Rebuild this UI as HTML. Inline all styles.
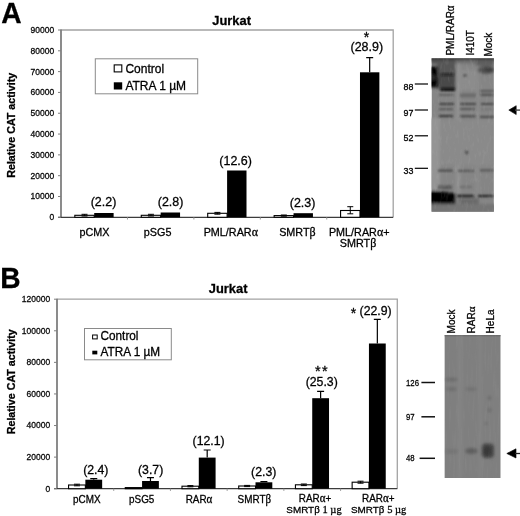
<!DOCTYPE html><html><head><meta charset="utf-8"><style>html,body{margin:0;padding:0;background:#fff;width:520px;height:516px;overflow:hidden}svg{display:block;filter:grayscale(1)}text{font-family:"Liberation Sans",sans-serif;stroke:#000;stroke-width:0.28px}</style></head><body>
<svg width="520" height="516" viewBox="0 0 520 516">
<defs><filter id="bl1" x="-20%" y="-50%" width="140%" height="200%"><feGaussianBlur stdDeviation="0.9"/></filter><filter id="bl2" x="-30%" y="-30%" width="160%" height="160%"><feGaussianBlur stdDeviation="1.5"/></filter><filter id="blA" x="-20%" y="-20%" width="140%" height="140%"><feGaussianBlur stdDeviation="1.4"/></filter><filter id="noise" x="0" y="0" width="100%" height="100%"><feTurbulence type="fractalNoise" baseFrequency="0.35 0.12" numOctaves="2" seed="7"/><feColorMatrix type="matrix" values="0 0 0 0 0.5  0 0 0 0 0.5  0 0 0 0 0.5  1.2 0 0 0 -0.6"/></filter><filter id="noiseB" x="0" y="0" width="100%" height="100%"><feTurbulence type="fractalNoise" baseFrequency="0.45 0.04" numOctaves="2" seed="3"/><feColorMatrix type="matrix" values="0 0 0 0 0.5  0 0 0 0 0.5  0 0 0 0 0.5  1.0 0 0 0 -0.5"/></filter><filter id="bl3" x="-30%" y="-60%" width="160%" height="220%"><feGaussianBlur stdDeviation="0.5"/></filter></defs>
<text transform="translate(1.3 22.9) scale(1.0 1.055)" font-size="28.2" text-anchor="start" font-weight="bold" fill="#000" >A</text>
<text transform="translate(231.6 25.1) scale(1.0 1.05)" font-size="12.9" text-anchor="middle" font-weight="bold" fill="#000" >Jurkat</text>
<text transform="translate(15.1 125.3) rotate(-90)" font-size="10.7" font-weight="bold" text-anchor="middle">Relative CAT activity</text>
<path d="M61 30.0H393.2V217.3" fill="none" stroke="#a3a3a3" stroke-width="1.3"/>
<path d="M61 29.5V217.3" stroke="#7f7f7f" stroke-width="1.8"/>
<path d="M58 217.3H393.2" stroke="#3c3c3c" stroke-width="1.2"/>
<path d="M58 217.3H61" stroke="#7f7f7f" stroke-width="1"/>
<text transform="translate(54.2 220.20000000000002) scale(1.0 1.05)" font-size="8.5" text-anchor="end" font-weight="normal" fill="#111" >0</text>
<path d="M58 196.4888888888889H61" stroke="#7f7f7f" stroke-width="1"/>
<text transform="translate(54.2 199.3888888888889) scale(1.0 1.05)" font-size="8.5" text-anchor="end" font-weight="normal" fill="#111" >10000</text>
<path d="M58 175.67777777777778H61" stroke="#7f7f7f" stroke-width="1"/>
<text transform="translate(54.2 178.57777777777778) scale(1.0 1.05)" font-size="8.5" text-anchor="end" font-weight="normal" fill="#111" >20000</text>
<path d="M58 154.86666666666667H61" stroke="#7f7f7f" stroke-width="1"/>
<text transform="translate(54.2 157.76666666666668) scale(1.0 1.05)" font-size="8.5" text-anchor="end" font-weight="normal" fill="#111" >30000</text>
<path d="M58 134.05555555555554H61" stroke="#7f7f7f" stroke-width="1"/>
<text transform="translate(54.2 136.95555555555555) scale(1.0 1.05)" font-size="8.5" text-anchor="end" font-weight="normal" fill="#111" >40000</text>
<path d="M58 113.24444444444445H61" stroke="#7f7f7f" stroke-width="1"/>
<text transform="translate(54.2 116.14444444444446) scale(1.0 1.05)" font-size="8.5" text-anchor="end" font-weight="normal" fill="#111" >50000</text>
<path d="M58 92.43333333333332H61" stroke="#7f7f7f" stroke-width="1"/>
<text transform="translate(54.2 95.33333333333333) scale(1.0 1.05)" font-size="8.5" text-anchor="end" font-weight="normal" fill="#111" >60000</text>
<path d="M58 71.6222222222222H61" stroke="#7f7f7f" stroke-width="1"/>
<text transform="translate(54.2 74.52222222222221) scale(1.0 1.05)" font-size="8.5" text-anchor="end" font-weight="normal" fill="#111" >70000</text>
<path d="M58 50.8111111111111H61" stroke="#7f7f7f" stroke-width="1"/>
<text transform="translate(54.2 53.7111111111111) scale(1.0 1.05)" font-size="8.5" text-anchor="end" font-weight="normal" fill="#111" >80000</text>
<path d="M58 30.0H61" stroke="#7f7f7f" stroke-width="1"/>
<text transform="translate(54.2 32.9) scale(1.0 1.05)" font-size="8.5" text-anchor="end" font-weight="normal" fill="#111" >90000</text>
<path d="M127.44 217.3V219.5" stroke="#999" stroke-width="1"/>
<path d="M193.88 217.3V219.5" stroke="#999" stroke-width="1"/>
<path d="M260.32 217.3V219.5" stroke="#999" stroke-width="1"/>
<path d="M326.76 217.3V219.5" stroke="#999" stroke-width="1"/>
<rect x="74.82" y="215.3" width="19.4" height="2.0" fill="#fff" stroke="#000" stroke-width="1.1"/>
<rect x="94.22" y="213.0" width="19.4" height="4.300000000000011" fill="#000"/>
<path d="M84.52 214.3V216.0M81.52 214.3h6M81.52 216.0h6" stroke="#000" stroke-width="1"/>
<rect x="141.26" y="215.3" width="19.4" height="2.0" fill="#fff" stroke="#000" stroke-width="1.1"/>
<rect x="160.66" y="212.5" width="19.4" height="4.800000000000011" fill="#000"/>
<path d="M150.96 214.3V216.0M147.96 214.3h6M147.96 216.0h6" stroke="#000" stroke-width="1"/>
<rect x="207.70" y="213.3" width="19.4" height="4.0" fill="#fff" stroke="#000" stroke-width="1.1"/>
<rect x="227.10" y="170.5" width="19.4" height="46.80000000000001" fill="#000"/>
<path d="M217.40 212.4V214.2M214.40 212.4h6M214.40 214.2h6" stroke="#000" stroke-width="1"/>
<rect x="274.14" y="215.6" width="19.4" height="1.700000000000017" fill="#fff" stroke="#000" stroke-width="1.1"/>
<rect x="293.54" y="213.2" width="19.4" height="4.100000000000023" fill="#000"/>
<path d="M283.84 215.0V216.2M280.84 215.0h6M280.84 216.2h6" stroke="#000" stroke-width="1"/>
<rect x="340.58" y="210.5" width="19.4" height="6.800000000000011" fill="#fff" stroke="#000" stroke-width="1.1"/>
<rect x="359.98" y="72.3" width="19.4" height="145.0" fill="#000"/>
<path d="M350.28 206.7V213.8M347.28 206.7h6M347.28 213.8h6" stroke="#000" stroke-width="1"/>
<path d="M369.68 57.6V72.3M366.18 57.6h7" stroke="#000" stroke-width="1.2"/>
<text transform="translate(103.5 206.3) scale(1.0 1.05)" font-size="12.5" text-anchor="middle" font-weight="normal" fill="#000" >(2.2)</text>
<text transform="translate(170.6 205.5) scale(1.0 1.05)" font-size="12.5" text-anchor="middle" font-weight="normal" fill="#000" >(2.8)</text>
<text transform="translate(235.6 165.4) scale(1.0 1.05)" font-size="12.5" text-anchor="middle" font-weight="normal" fill="#000" >(12.6)</text>
<text transform="translate(302.6 206.8) scale(1.0 1.05)" font-size="12.5" text-anchor="middle" font-weight="normal" fill="#000" >(2.3)</text>
<text transform="translate(366.8 50.8) scale(1.0 1.05)" font-size="12.5" text-anchor="middle" font-weight="normal" fill="#000" >(28.9)</text>
<text transform="translate(366.6 42.4) scale(1.0 1.05)" font-size="14" text-anchor="middle" font-weight="normal" fill="#000" >*</text>
<rect x="95.3" y="58.8" width="102.4" height="35" fill="#fff" stroke="#8a8a8a" stroke-width="1"/>
<rect x="114.2" y="64.9" width="7.6" height="7" fill="#fff" stroke="#000" stroke-width="1.1"/>
<rect x="113.8" y="82.3" width="8.4" height="7.2" fill="#000"/>
<text transform="translate(125.4 73.1) scale(1.0 1.05)" font-size="12.0" text-anchor="start" font-weight="normal" fill="#000" >Control</text>
<text transform="translate(125.4 90.1) scale(1.0 1.05)" font-size="12.0" text-anchor="start" font-weight="normal" fill="#000" >ATRA 1 µM</text>
<text transform="translate(94.5 235.5) scale(1.0 1.05)" font-size="10.8" text-anchor="middle" font-weight="normal" fill="#000" >pCMX</text>
<text transform="translate(157.6 235.5) scale(1.0 1.05)" font-size="10.8" text-anchor="middle" font-weight="normal" fill="#000" >pSG5</text>
<text transform="translate(230.8 235.5) scale(1.0 1.05)" font-size="10.8" text-anchor="middle" font-weight="normal" fill="#000" >PML/RAR<tspan font-family="Liberation Serif" font-size="12">α</tspan></text>
<text transform="translate(297.4 235.5) scale(1.0 1.05)" font-size="10.8" text-anchor="middle" font-weight="normal" fill="#000" >SMRT<tspan font-family="Liberation Serif" font-size="12">β</tspan></text>
<text transform="translate(359.2 235.5) scale(1.0 1.05)" font-size="10.8" text-anchor="middle" font-weight="normal" fill="#000" >PML/RAR<tspan font-family="Liberation Serif" font-size="12">α</tspan>+</text>
<text transform="translate(358.0 247.4) scale(1.0 1.05)" font-size="10.8" text-anchor="middle" font-weight="normal" fill="#000" >SMRT<tspan font-family="Liberation Serif" font-size="12">β</tspan></text>
<text transform="translate(0.2 288.4) scale(1.0 1.055)" font-size="28.2" text-anchor="start" font-weight="bold" fill="#000" >B</text>
<text transform="translate(228.1 293.1) scale(1.0 1.05)" font-size="12.9" text-anchor="middle" font-weight="bold" fill="#000" >Jurkat</text>
<text transform="translate(14.9 381.8) rotate(-90)" font-size="10.7" font-weight="bold" text-anchor="middle">Relative CAT activity</text>
<path d="M57 299.2H397.3V488.7" fill="none" stroke="#a3a3a3" stroke-width="1.3"/>
<path d="M57 298.7V488.7" stroke="#7f7f7f" stroke-width="1.8"/>
<path d="M54 488.7H397.3" stroke="#3c3c3c" stroke-width="1.2"/>
<path d="M54 488.7H57" stroke="#7f7f7f" stroke-width="1"/>
<text transform="translate(50.2 491.59999999999997) scale(1.0 1.05)" font-size="8.5" text-anchor="end" font-weight="normal" fill="#111" >0</text>
<path d="M54 457.1166666666667H57" stroke="#7f7f7f" stroke-width="1"/>
<text transform="translate(50.2 460.01666666666665) scale(1.0 1.05)" font-size="8.5" text-anchor="end" font-weight="normal" fill="#111" >20000</text>
<path d="M54 425.5333333333333H57" stroke="#7f7f7f" stroke-width="1"/>
<text transform="translate(50.2 428.4333333333333) scale(1.0 1.05)" font-size="8.5" text-anchor="end" font-weight="normal" fill="#111" >40000</text>
<path d="M54 393.95H57" stroke="#7f7f7f" stroke-width="1"/>
<text transform="translate(50.2 396.84999999999997) scale(1.0 1.05)" font-size="8.5" text-anchor="end" font-weight="normal" fill="#111" >60000</text>
<path d="M54 362.3666666666667H57" stroke="#7f7f7f" stroke-width="1"/>
<text transform="translate(50.2 365.26666666666665) scale(1.0 1.05)" font-size="8.5" text-anchor="end" font-weight="normal" fill="#111" >80000</text>
<path d="M54 330.7833333333333H57" stroke="#7f7f7f" stroke-width="1"/>
<text transform="translate(50.2 333.6833333333333) scale(1.0 1.05)" font-size="8.5" text-anchor="end" font-weight="normal" fill="#111" >100000</text>
<path d="M54 299.2H57" stroke="#7f7f7f" stroke-width="1"/>
<text transform="translate(50.2 302.09999999999997) scale(1.0 1.05)" font-size="8.5" text-anchor="end" font-weight="normal" fill="#111" >120000</text>
<path d="M113.72 488.7V490.9" stroke="#999" stroke-width="1"/>
<path d="M170.43 488.7V490.9" stroke="#999" stroke-width="1"/>
<path d="M227.15 488.7V490.9" stroke="#999" stroke-width="1"/>
<path d="M283.87 488.7V490.9" stroke="#999" stroke-width="1"/>
<path d="M340.58 488.7V490.9" stroke="#999" stroke-width="1"/>
<rect x="68.56" y="485.0" width="16.8" height="3.6999999999999886" fill="#fff" stroke="#000" stroke-width="1.1"/>
<rect x="85.36" y="479.7" width="16.8" height="9.0" fill="#000"/>
<path d="M76.96 484.2V485.8M73.96 484.2h6M73.96 485.8h6" stroke="#000" stroke-width="1"/>
<path d="M93.76 478.6V479.7M90.26 478.6h7" stroke="#000" stroke-width="1.2"/>
<rect x="125.27" y="487.6" width="16.8" height="1.099999999999966" fill="#fff" stroke="#000" stroke-width="1.1"/>
<rect x="142.07" y="481.0" width="16.8" height="7.699999999999989" fill="#000"/>
<path d="M150.47 477.6V481.0M146.97 477.6h7" stroke="#000" stroke-width="1.2"/>
<rect x="181.99" y="486.2" width="16.8" height="2.5" fill="#fff" stroke="#000" stroke-width="1.1"/>
<rect x="198.79" y="457.6" width="16.8" height="31.099999999999966" fill="#000"/>
<path d="M190.39 485.6V486.8M187.39 485.6h6M187.39 486.8h6" stroke="#000" stroke-width="1"/>
<path d="M207.19 450.0V457.6M203.69 450.0h7" stroke="#000" stroke-width="1.2"/>
<rect x="238.71" y="486.0" width="16.8" height="2.6999999999999886" fill="#fff" stroke="#000" stroke-width="1.1"/>
<rect x="255.51" y="482.3" width="16.8" height="6.399999999999977" fill="#000"/>
<path d="M247.11 485.4V486.6M244.11 485.4h6M244.11 486.6h6" stroke="#000" stroke-width="1"/>
<path d="M263.91 481.6V482.3M260.41 481.6h7" stroke="#000" stroke-width="1.2"/>
<rect x="295.43" y="484.8" width="16.8" height="3.8999999999999773" fill="#fff" stroke="#000" stroke-width="1.1"/>
<rect x="312.23" y="398.2" width="16.8" height="90.5" fill="#000"/>
<path d="M303.83 484.0V485.6M300.83 484.0h6M300.83 485.6h6" stroke="#000" stroke-width="1"/>
<path d="M320.62 391.3V398.2M317.12 391.3h7" stroke="#000" stroke-width="1.2"/>
<rect x="352.14" y="482.2" width="16.8" height="6.5" fill="#fff" stroke="#000" stroke-width="1.1"/>
<rect x="368.94" y="343.5" width="16.8" height="145.2" fill="#000"/>
<path d="M360.54 481.2V483.2M357.54 481.2h6M357.54 483.2h6" stroke="#000" stroke-width="1"/>
<path d="M377.34 319.3V343.5M373.84 319.3h7" stroke="#000" stroke-width="1.2"/>
<text transform="translate(95.8 473.7) scale(1.0 1.05)" font-size="12.3" text-anchor="middle" font-weight="normal" fill="#000" >(2.4)</text>
<text transform="translate(150.6 473.7) scale(1.0 1.05)" font-size="12.3" text-anchor="middle" font-weight="normal" fill="#000" >(3.7)</text>
<text transform="translate(208.6 445.0) scale(1.0 1.05)" font-size="12.3" text-anchor="middle" font-weight="normal" fill="#000" >(12.1)</text>
<text transform="translate(263.7 475.5) scale(1.0 1.05)" font-size="12.3" text-anchor="middle" font-weight="normal" fill="#000" >(2.3)</text>
<text transform="translate(321.7 386.1) scale(1.0 1.05)" font-size="12.3" text-anchor="middle" font-weight="normal" fill="#000" >(25.3)</text>
<text transform="translate(375.6 315.3) scale(1.0 1.05)" font-size="12.3" text-anchor="middle" font-weight="normal" fill="#000" >(22.9)</text>
<text transform="translate(321.9 376.4) scale(1.0 1.05)" font-size="14.5" text-anchor="middle" font-weight="normal" fill="#000" letter-spacing="1.2">**</text>
<text transform="translate(353.4 317.6) scale(1.0 1.05)" font-size="14" text-anchor="middle" font-weight="normal" fill="#000" >*</text>
<rect x="84.5" y="328.5" width="86.8" height="31.3" fill="#fff" stroke="#8a8a8a" stroke-width="1"/>
<rect x="92.6" y="335.0" width="4.6" height="3.9" fill="#fff" stroke="#000" stroke-width="1"/>
<rect x="92.3" y="350.7" width="5" height="3.7" fill="#000"/>
<text transform="translate(100.5 340.0) scale(1.0 1.05)" font-size="11.8" text-anchor="start" font-weight="normal" fill="#000" >Control</text>
<text transform="translate(100.5 355.9) scale(1.0 1.05)" font-size="11.8" text-anchor="start" font-weight="normal" fill="#000" >ATRA 1 µM</text>
<text transform="translate(86.8 502.6) scale(1.0 1.05)" font-size="9.9" text-anchor="middle" font-weight="normal" fill="#000" >pCMX</text>
<text transform="translate(141.7 502.6) scale(1.0 1.05)" font-size="9.9" text-anchor="middle" font-weight="normal" fill="#000" >pSG5</text>
<text transform="translate(199.0 502.6) scale(1.0 1.05)" font-size="9.9" text-anchor="middle" font-weight="normal" fill="#000" >RAR<tspan font-family="Liberation Serif" font-size="11">α</tspan></text>
<text transform="translate(254.3 502.6) scale(1.0 1.05)" font-size="9.9" text-anchor="middle" font-weight="normal" fill="#000" >SMRT<tspan font-family="Liberation Serif" font-size="11">β</tspan></text>
<text transform="translate(315.0 501.6) scale(1.0 1.05)" font-size="9.9" text-anchor="middle" font-weight="normal" fill="#000" >RAR<tspan font-family="Liberation Serif" font-size="11">α</tspan>+</text>
<text transform="translate(378.3 501.6) scale(1.0 1.05)" font-size="9.9" text-anchor="middle" font-weight="normal" fill="#000" >RAR<tspan font-family="Liberation Serif" font-size="11">α</tspan>+</text>
<text x="314.0" y="513.2" font-size="9.9" text-anchor="middle">SMRT<tspan font-family="Liberation Serif" font-size="11">β</tspan> <tspan font-family="Liberation Serif" font-size="10.5">1 µg</tspan></text>
<text x="378.7" y="513.2" font-size="9.9" text-anchor="middle">SMRT<tspan font-family="Liberation Serif" font-size="11">β</tspan> <tspan font-family="Liberation Serif" font-size="10.5">5 µg</tspan></text>
<clipPath id="cpA"><rect x="431.5" y="58.2" width="62.4" height="153.6"/></clipPath>
<g clip-path="url(#cpA)">
<rect x="431.5" y="58.2" width="62.4" height="153.6" fill="#858585"/>
<g filter="url(#blA)">
<rect x="456" y="62" width="4.5" height="146" fill="#919191"/>
<rect x="476" y="62" width="3.5" height="146" fill="#8a8a8a"/>
<rect x="459" y="70" width="17" height="20" fill="#8c8c8c"/>
<rect x="428" y="118" width="12" height="72" fill="#949494"/>
<rect x="441" y="120" width="52" height="45" fill="#8a8a8a"/>
<rect x="428" y="56" width="70" height="4.6" fill="#363636"/>
<rect x="431" y="60" width="25" height="4" fill="#555"/>
<rect x="437" y="63" width="19" height="11" fill="#565656"/>
<rect x="456" y="60" width="20" height="3.5" fill="#6e6e6e"/>
<rect x="476" y="60" width="18" height="6" fill="#5e5e5e"/>
<rect x="437" y="74" width="18.5" height="15" fill="#4a4a4a"/>
<rect x="428" y="66.5" width="10" height="21" fill="#060606"/>
<rect x="430" y="75" width="6" height="5" fill="#2a2a2a"/>
<ellipse cx="486" cy="70" rx="8.5" ry="3.8" fill="#505050"/>
<ellipse cx="489" cy="69.5" rx="4.5" ry="2.3" fill="#3c3c3c"/>
<rect x="458" y="198" width="21" height="8" fill="#6a6a6a"/>
<rect x="428" y="204" width="70" height="10" fill="#747474"/>
<path d="M428 191 Q440 190.5 456 193.5 V204 H428 Z" fill="#050505"/>
</g>
<g filter="url(#bl1)">
<rect x="441" y="73.6" width="12.8" height="1.8" fill="#141414"/>
<rect x="440.4" y="87.8" width="14.5" height="3.2" fill="#0e0e0e"/>
<ellipse cx="465" cy="75.5" rx="2" ry="1.5" fill="#555"/>
<rect x="439" y="94.00" width="15" height="1.6" fill="#555"/>
<rect x="460" y="93.40" width="16" height="4.0" fill="#6c6c6c"/>
<rect x="480" y="90.00" width="13.5" height="1.8" fill="#555"/>
<rect x="480" y="93.70" width="13.5" height="2.2" fill="#505050"/>
<rect x="439" y="103.15" width="15" height="1.7" fill="#333"/>
<rect x="460" y="103.15" width="16" height="1.7" fill="#3a3a3a"/>
<rect x="481" y="103.15" width="12.5" height="1.7" fill="#404040"/>
<rect x="439" y="108.45" width="14" height="1.5" fill="#4a4a4a"/>
<rect x="460" y="108.20" width="15" height="1.6" fill="#4a4a4a"/>
<rect x="481" y="108.80" width="12" height="1.2" fill="#707070"/>
<rect x="439" y="115.15" width="14" height="1.9" fill="#333"/>
<rect x="460" y="115.40" width="15.5" height="1.8" fill="#404040"/>
<rect x="480" y="116.00" width="14" height="1.8" fill="#444"/>
<rect x="438" y="169.65" width="15" height="1.9" fill="#444"/>
<rect x="458" y="169.90" width="16" height="1.8" fill="#505050"/>
<rect x="480" y="169.50" width="13.5" height="1.8" fill="#505050"/>
<rect x="438" y="185.40" width="14" height="1.6" fill="#555"/>
<rect x="438" y="187.50" width="14" height="1.6" fill="#4a4a4a"/>
<rect x="460" y="185.80" width="12" height="2.4" fill="#707070"/>
<rect x="457" y="194.85" width="17" height="2.3" fill="#202020"/>
<rect x="478" y="194.85" width="15.5" height="2.3" fill="#252525"/>
<ellipse cx="466.6" cy="152.4" rx="1.2" ry="1.8" fill="#333"/>
</g>
<rect x="431.5" y="58.2" width="62.4" height="153.6" filter="url(#noise)" opacity="0.35"/>
</g>
<path d="M414.8 84H428" stroke="#000" stroke-width="1.2"/>
<text transform="translate(413.4 89.6) scale(1.0 1.05)" font-size="8.9" text-anchor="end" font-weight="normal" fill="#000" >88</text>
<path d="M414.8 110H428" stroke="#000" stroke-width="1.2"/>
<text transform="translate(413.4 115.6) scale(1.0 1.05)" font-size="8.9" text-anchor="end" font-weight="normal" fill="#000" >97</text>
<path d="M414.8 135.8H428" stroke="#000" stroke-width="1.2"/>
<text transform="translate(413.4 141.4) scale(1.0 1.05)" font-size="8.9" text-anchor="end" font-weight="normal" fill="#000" >52</text>
<path d="M414.8 168.3H428" stroke="#000" stroke-width="1.2"/>
<text transform="translate(413.4 173.9) scale(1.0 1.05)" font-size="8.9" text-anchor="end" font-weight="normal" fill="#000" >33</text>
<text transform="translate(454.2 55.6) rotate(-90)" font-size="10">PML/RARα</text>
<text transform="translate(473.9 55.6) rotate(-90)" font-size="10">I410T</text>
<text transform="translate(492.4 56.6) rotate(-90)" font-size="10">Mock</text>
<path d="M508.8 110.1L516.2 105.7V114.6Z" fill="#000" stroke="#000" stroke-width="0.6" stroke-linejoin="round"/><path d="M515 110.1H520" stroke="#444" stroke-width="1.4"/>
<clipPath id="cpB"><rect x="444.4" y="335.1" width="56.3" height="142.9"/></clipPath>
<g clip-path="url(#cpB)">
<rect x="444.4" y="335.1" width="56.3" height="142.9" fill="#7f7f7f"/>
<rect x="444.4" y="335.1" width="56.3" height="1.2" fill="#6a6a6a"/>
<g filter="url(#bl2)">
<rect x="458.5" y="336" width="3" height="142" fill="#868686"/>
<rect x="478.5" y="336" width="3" height="142" fill="#848484"/>
<ellipse cx="451.5" cy="379.5" rx="6.5" ry="1.8" fill="#6a6a6a"/>
<ellipse cx="451.5" cy="389" rx="5.5" ry="2" fill="#6e6e6e"/>
<ellipse cx="471" cy="389" rx="6" ry="2" fill="#727272"/>
<ellipse cx="452" cy="451.5" rx="6.5" ry="2.5" fill="#747474"/>
<ellipse cx="471.5" cy="451" rx="6.5" ry="3" fill="#5e5e5e"/>
<rect x="481.5" y="443.5" width="12.5" height="14.5" rx="4" fill="#4a4a4a"/>
<ellipse cx="489.5" cy="398" rx="1.6" ry="2.2" fill="#6a6a6a"/>
<ellipse cx="489.5" cy="410" rx="1.6" ry="2.5" fill="#6a6a6a"/>
<ellipse cx="486" cy="423.5" rx="1.2" ry="1.2" fill="#606060"/>
</g>
<g filter="url(#bl2)"><ellipse cx="487.5" cy="451" rx="4" ry="5" fill="#383838"/></g>
<rect x="444.4" y="335.1" width="56.3" height="142.9" filter="url(#noiseB)" opacity="0.25"/>
</g>
<path d="M421.4 382.5H435" stroke="#111" stroke-width="1.5"/>
<text transform="translate(406.0 385.8) scale(0.82 1.05)" font-size="9.5" text-anchor="start" font-weight="normal" fill="#000" >126</text>
<path d="M421.4 416.8H435" stroke="#111" stroke-width="1.5"/>
<text transform="translate(406.0 420.2) scale(0.82 1.05)" font-size="9.5" text-anchor="start" font-weight="normal" fill="#000" >97</text>
<path d="M419.6 458.3H435" stroke="#111" stroke-width="1.5"/>
<text transform="translate(406.0 460.59999999999997) scale(0.82 1.05)" font-size="9.5" text-anchor="start" font-weight="normal" fill="#000" >48</text>
<text transform="translate(455.3 333.4) rotate(-90)" font-size="10">Mock</text>
<text transform="translate(474.8 333.4) rotate(-90)" font-size="10">RAR<tspan font-family="Liberation Serif" font-size="11">α</tspan></text>
<text transform="translate(494.0 333.4) rotate(-90)" font-size="10">HeLa</text>
<path d="M506.8 453.5L516 448.8V458Z" fill="#000" stroke="#000" stroke-width="0.6" stroke-linejoin="round"/><path d="M515 453.5H520" stroke="#222" stroke-width="1.3"/>
</svg></body></html>
